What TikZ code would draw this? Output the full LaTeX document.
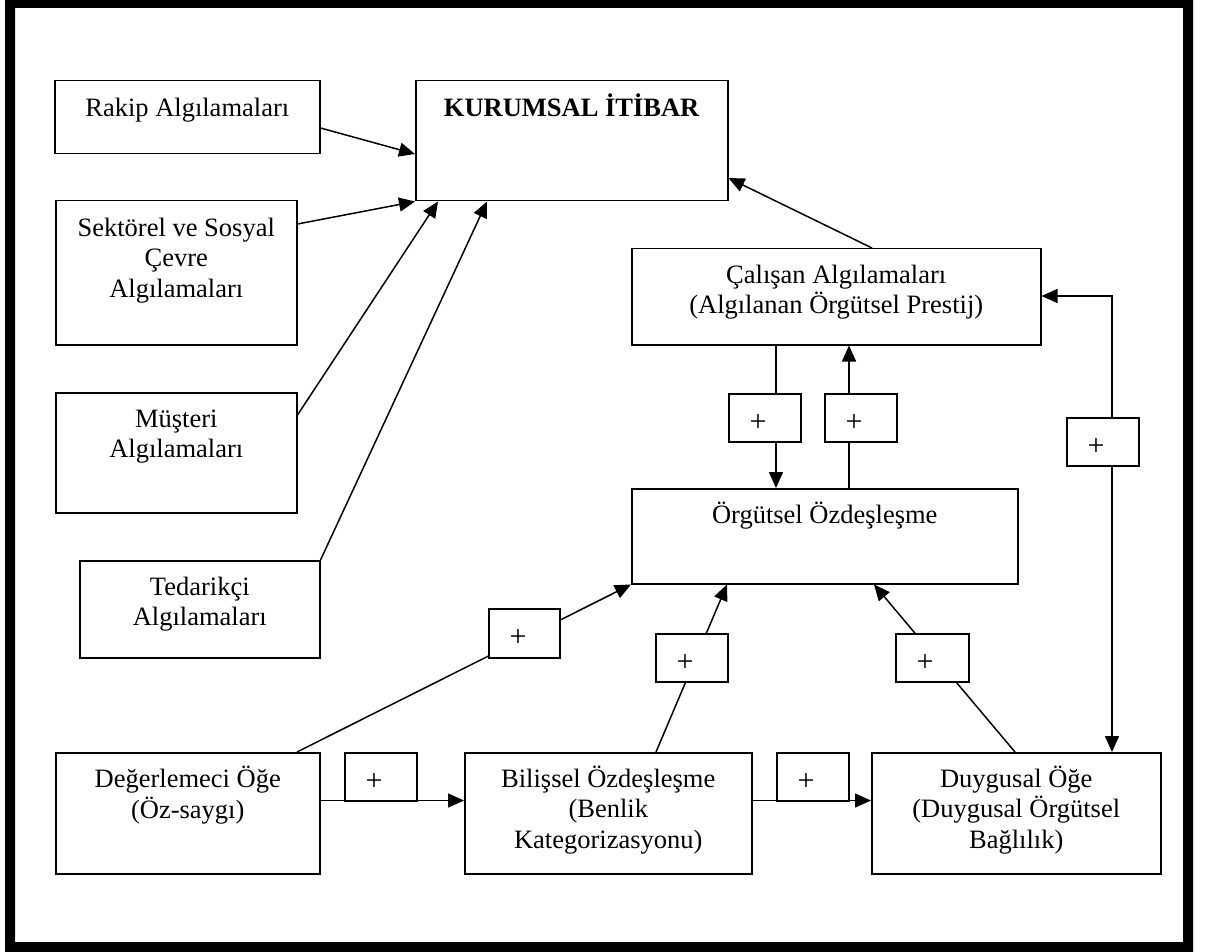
\documentclass[tikz,border=0pt]{standalone}
\usepackage{fontspec}
\setmainfont{Liberation Serif}
\usetikzlibrary{arrows.meta,calc}
\begin{document}
\begin{tikzpicture}[x=1pt,y=-1pt,
  box/.style={draw,line width=1.5pt,inner sep=0pt,anchor=north west},
  plusbox/.style={box,fill=white,minimum width=72pt,minimum height=48pt},
  txt/.style={anchor=base,align=center,inner sep=0pt,font=\fontsize{26.5}{30.7}\selectfont},
  pluslbl/.style={inner sep=0pt,font=\fontsize{30}{34}\selectfont},
  tip/.tip={Triangle[length=16pt,width=14pt]},
  link/.style={line width=1.5pt,-tip},
  biglink/.style={line width=1.5pt,tip-tip}]

% page and thick outer frame
\useasboundingbox (0,0) rectangle (1205,952);
\fill[white] (0,0) rectangle (1205,952);
\fill[black,even odd rule] (5,0) rectangle (1193,952) (15,8) rectangle (1183,942);

% main boxes
\node[box,minimum width=265pt,minimum height=73pt]  (rakip)       at (54,80)  {};
\node[box,minimum width=312pt,minimum height=120pt] (kurumsal)    at (415,80) {};
\node[box,minimum width=241pt,minimum height=144pt] (sektorel)    at (55,200) {};
\node[box,minimum width=241pt,minimum height=120pt] (musteri)     at (55,392) {};
\node[box,minimum width=240pt,minimum height=97pt]  (tedarikci)   at (79,560) {};
\node[box,minimum width=409pt,minimum height=96pt]  (calisan)     at (631,248) {};
\node[box,minimum width=386pt,minimum height=95pt]  (orgutsel)    at (631,488) {};
\node[box,minimum width=264pt,minimum height=121pt] (degerlemeci) at (55,752) {};
\node[box,minimum width=287pt,minimum height=121pt] (bilissel)    at (464,752) {};
\node[box,minimum width=289pt,minimum height=121pt] (duygusal)    at (871,752) {};

% box texts; the base anchor sits on the last line, so the offset
% is the first baseline plus one line step per extra line
\node[txt] (rakip-t)       at ($(rakip.north)+(0,37)$)         {Rakip Algılamaları};
\node[txt] (kurumsal-t)    at ($(kurumsal.north)+(0,37)$)      {\textbf{KURUMSAL İTİBAR}};
\node[txt] (sektorel-t)    at ($(sektorel.north)+(0,97.4)$)    {Sektörel ve Sosyal\\Çevre\\Algılamaları};
\node[txt] (musteri-t)     at ($(musteri.north)+(0,65.7)$)     {Müşteri\\Algılamaları};
\node[txt] (tedarikci-t)   at ($(tedarikci.north)+(0,65.7)$)   {Tedarikçi\\Algılamaları};
\node[txt] (calisan-t)     at ($(calisan.north)+(0,65.7)$)     {Çalışan Algılamaları\\(Algılanan Örgütsel Prestij)};
\node[txt] (orgutsel-t)    at ($(orgutsel.north)+(0,35)$)      {Örgütsel Özdeşleşme};
\node[txt] (degerlemeci-t) at ($(degerlemeci.north)+(0,66.2)$) {Değerlemeci Öğe\\(Öz-saygı)};
\node[txt] (bilissel-t)    at ($(bilissel.north)+(0,96.4)$)    {Bilişsel Özdeşleşme\\(Benlik\\Kategorizasyonu)};
\node[txt] (duygusal-t)    at ($(duygusal.north)+(0,96.4)$)    {Duygusal Öğe\\(Duygusal Örgütsel\\Bağlılık)};

% perceptions feeding corporate reputation
\draw[link] ($(rakip.north east)+(0,48)$)     -- ($(kurumsal.north west)+(0,74)$);
\draw[link] ($(sektorel.north east)+(0,24)$)  -- (kurumsal.south west);
\draw[link] ($(musteri.north east)+(0,23)$)   -- ($(kurumsal.south west)+(23,0)$);
\draw[link] (tedarikci.north east)            -- ($(kurumsal.south west)+(72,0)$);
\draw[link] ($(calisan.north west)+(241,0)$)  -- ($(kurumsal.north east)+(0,98)$);

% employee perceptions and identification
\draw[link] ($(calisan.south west)+(145,0)$)  -- ($(orgutsel.north west)+(145,0)$);
\draw[link] ($(orgutsel.north west)+(218,0)$) -- ($(calisan.south west)+(218,0)$);
\draw[biglink] ($(calisan.north east)+(0,48)$) -| ($(duygusal.north west)+(241,0)$);

% components of identification
\draw[link] ($(degerlemeci.north west)+(242,0)$) -- (orgutsel.south west);
\draw[link] ($(bilissel.north west)+(192,0)$)    -- ($(orgutsel.south west)+(96,0)$);
\draw[link] ($(duygusal.north west)+(144,0)$)    -- ($(orgutsel.south west)+(243,0)$);
\draw[link] ($(degerlemeci.north east)+(0,48.5)$) -- ($(bilissel.north west)+(0,48.5)$);
\draw[link] ($(bilissel.north east)+(0,48.5)$)    -- ($(duygusal.north west)+(0,48.5)$);

% sign boxes laid over the connectors
\node[plusbox] (pA) at (728,393) {};
\node[plusbox] (pB) at (824,393) {};
\node[plusbox] (pC) at (1066,417) {};
\node[plusbox,minimum width=71pt,minimum height=49pt] (pD) at (488,608) {};
\node[plusbox] (pE) at (655,633) {};
\node[plusbox,minimum width=73pt] (pF) at (895,633) {};
\node[plusbox] (pG) at (344,752) {};
\node[plusbox] (pH) at (776,752) {};

\foreach \p in {pA,pB,pC,pD,pE,pF,pG,pH}
  \node[pluslbl] (\p-t) at ($(\p.north west)+(30,30)$) {+};
\end{tikzpicture}
\end{document}
